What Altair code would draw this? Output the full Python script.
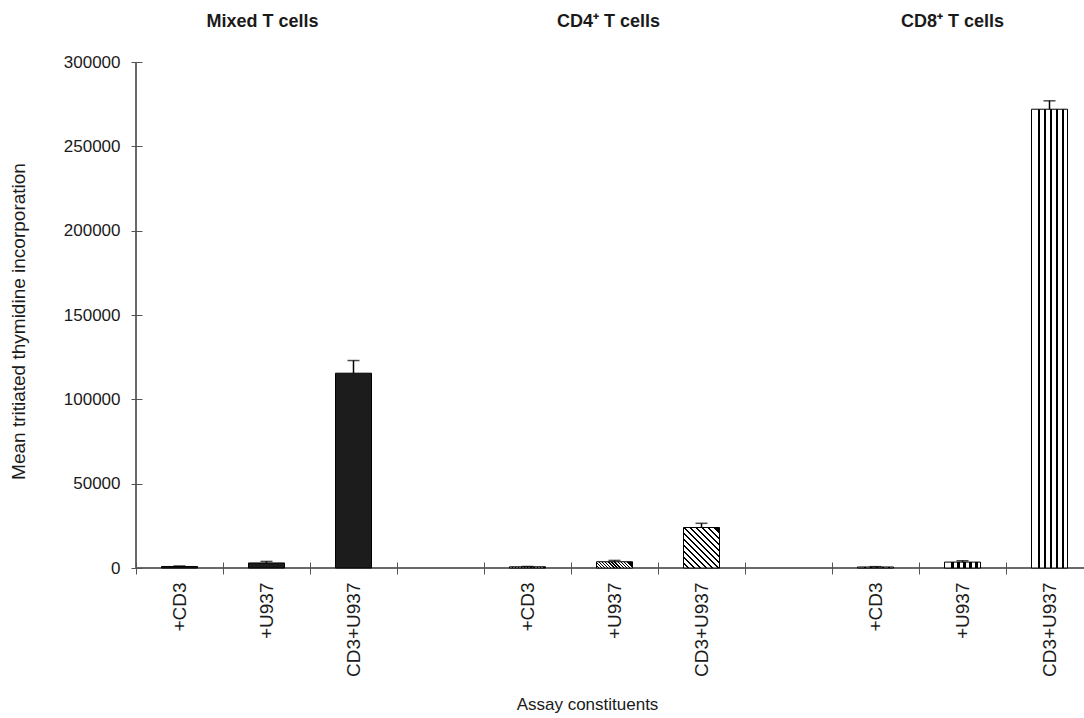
import altair as alt
import pandas as pd

# Proliferation of T-cell subsets (mean counts with upward error bars)
groups = ["Mixed T cells", "CD4\u207a T cells", "CD8\u207a T cells"]
conditions = ["+CD3", "+U937", "CD3+U937"]
mixed_mean = [900, 3000, 115500]
mixed_err = [300, 900, 7500]
cd4_mean = [700, 3700, 24000]
cd4_err = [200, 800, 2500]
cd8_mean = [600, 3500, 272000]
cd8_err = [200, 800, 5000]
y_ticks = [0, 50000, 100000, 150000, 200000, 250000, 300000]

FONT = "Liberation Sans, Arial, Helvetica, sans-serif"
INK = "#1a1a1a"
W, H = 948, 506
BAND = 87
N_SLOTS = 11
Y_MAX = 300000

# one empty slot between groups
slot_labels = []
for g in range(len(groups)):
    slot_labels += conditions
    if g < len(groups) - 1:
        slot_labels.append("")

rows = []
for g, (means, errs) in enumerate([(mixed_mean, mixed_err), (cd4_mean, cd4_err), (cd8_mean, cd8_err)]):
    for c, cond in enumerate(conditions):
        rows.append({"slot": 4 * g + c, "group": groups[g], "condition": cond,
                     "mean": means[c], "err": errs[c], "top": means[c] + errs[c]})
df = pd.DataFrame(rows)
titles = pd.DataFrame({"slot": [4 * g + 1 for g in range(len(groups))], "label": groups})

label_js = "[" + ",".join('"%s"' % s for s in slot_labels) + "]"

x_enc = alt.X(
    "slot:O",
    scale=alt.Scale(domain=list(range(N_SLOTS)), range=[0, BAND * N_SLOTS],
                    paddingInner=0, paddingOuter=0),
    axis=alt.Axis(
        title="Assay constituents", labelExpr=label_js + "[datum.value]",
        labelAngle=270, labelFontSize=19, labelFont=FONT, labelColor=INK,
        labelPadding=8, tickBand="extent", tickSize=12, tickColor="#555",
        offset=-6, domain=False, grid=False,
        titleFont=FONT, titleFontSize=17, titleFontWeight="normal", titleColor=INK,
        titleX=451, titleY=142, titleBaseline="middle", titleAnchor="middle",
    ),
)
y_axis = alt.Axis(
    values=y_ticks, format="d", title="Mean tritiated thymidine incorporation",
    labelFontSize=17, labelFont=FONT, labelColor=INK, labelPadding=11,
    tickSize=11, tickColor="#555", offset=-6, domain=False, grid=False,
    titleFont=FONT, titleFontSize=19, titleFontWeight="normal", titleColor=INK,
    titleX=-124, titleY=259, titleBaseline="middle", titleAnchor="middle",
)
y_scale = alt.Scale(domain=[0, Y_MAX], nice=False)


def stripes(n, dark_frac, x1, y1, x2, y2):
    stops = []
    for k in range(n):
        a = k / n
        b = (k + 1 - dark_frac) / n
        e = (k + 1) / n
        stops += [alt.GradientStop(offset=a, color="white"),
                  alt.GradientStop(offset=b, color="white"),
                  alt.GradientStop(offset=b, color="black"),
                  alt.GradientStop(offset=e, color="black")]
    return alt.Gradient(gradient="linear", stops=stops, x1=x1, y1=y1, x2=x2, y2=y2)


def diagonal(value, bar_w=36):
    # 45-degree "\" hatching on a bar of the given value
    h = max(value / Y_MAX * H, 1.0)
    r = h / bar_w
    if r >= 1:
        vx, vy = 1 / r, 1.0
    else:
        vx, vy = 1.0, r
    return stripes(12, 0.4, 0, 1, vx, 1 - vy)


base = alt.Chart(df)
bar_kw = dict(size=36, stroke="black", strokeWidth=1)

mixed_bars = base.transform_filter(alt.datum.group == groups[0]).mark_bar(
    fill="#1c1c1c", **bar_kw).encode(x=x_enc, y=alt.Y("mean:Q", scale=y_scale, axis=y_axis))
cd4_small = base.transform_filter(
    (alt.datum.group == groups[1]) & (alt.datum.condition != conditions[2])).mark_bar(
    fill=diagonal(cd4_mean[1]), **bar_kw).encode(x=x_enc, y=alt.Y("mean:Q", scale=y_scale, axis=y_axis))
cd4_big = base.transform_filter(
    (alt.datum.group == groups[1]) & (alt.datum.condition == conditions[2])).mark_bar(
    fill=diagonal(cd4_mean[2]), **bar_kw).encode(x=x_enc, y=alt.Y("mean:Q", scale=y_scale, axis=y_axis))
cd8_bars = base.transform_filter(alt.datum.group == groups[2]).mark_bar(
    fill=stripes(6, 0.4, 0.5 / 6, 0, 1 + 0.5 / 6, 0), **bar_kw).encode(
    x=x_enc, y=alt.Y("mean:Q", scale=y_scale, axis=y_axis))

err_rules = base.mark_rule(color="black", strokeWidth=1.5).encode(
    x=x_enc, y=alt.Y("mean:Q", scale=y_scale, axis=y_axis), y2="top:Q")
err_caps = base.mark_tick(color="black", size=12, thickness=1.5).encode(
    x=x_enc, y=alt.Y("top:Q", scale=y_scale, axis=y_axis))

# group headings, each nudged slightly left of its middle slot
title_layers = []
for g, shift in zip(groups, [-4, -6, -10]):
    title_layers.append(
        alt.Chart(titles).transform_filter(alt.datum.label == g).mark_text(
            font=FONT, fontSize=18, fontWeight="bold", color=INK, baseline="middle", dx=shift
        ).encode(x=x_enc, y=alt.value(-40), text="label:N")
    )

y_line = alt.Chart(titles).mark_rule(color="#555", strokeWidth=1).encode(
    x=alt.value(0), y=alt.value(0), y2=alt.value(H))
x_line = alt.Chart(titles).mark_rule(color="#555", strokeWidth=1).encode(
    x=alt.value(0), x2=alt.value(W + 20), y=alt.value(H))

chart = alt.layer(
    y_line, x_line, mixed_bars, cd4_small, cd4_big, cd8_bars, err_rules, err_caps, *title_layers
).properties(
    width=W, height=H,
    autosize=alt.AutoSizeParams(type="none"),
    padding={"left": 136, "top": 62, "right": 0, "bottom": 150},
    background="white",
).configure_view(stroke=None)

chart.save("out.html", embed_options={"renderer": "svg", "actions": False})
